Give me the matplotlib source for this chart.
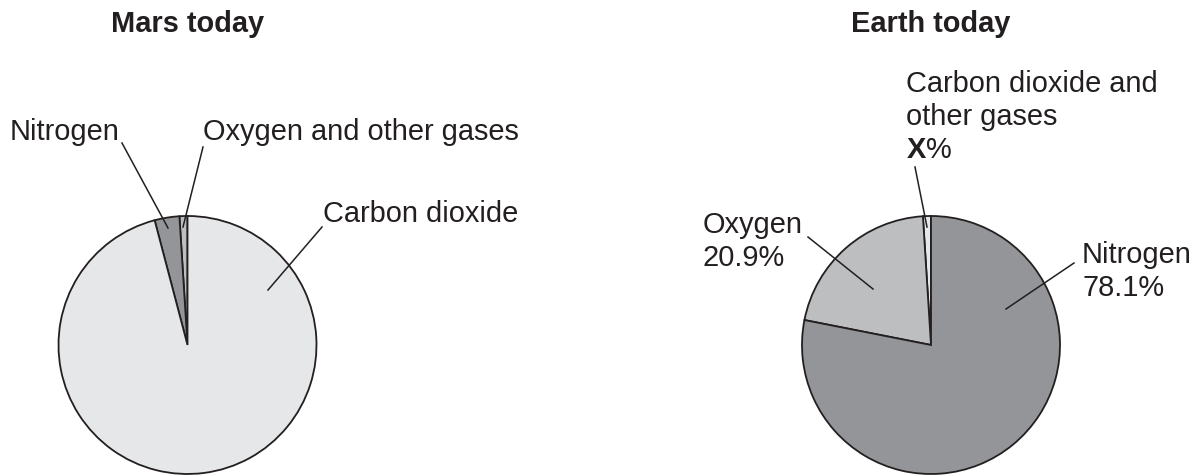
import matplotlib
matplotlib.use("Agg")
import matplotlib.pyplot as plt

plt.rcParams["font.family"] = ["Liberation Sans", "DejaVu Sans"]
plt.rcParams["mathtext.fontset"] = "custom"
plt.rcParams["mathtext.rm"] = "Liberation Sans"
plt.rcParams["mathtext.bf"] = "Liberation Sans:bold"

# Data (shares going counter-clockwise from 12 o'clock)
mars_labels = ["Oxygen and other gases", "Nitrogen", "Carbon dioxide"]
mars_values = [1.0, 3.1, 95.9]
mars_colors = ["#bcbec0", "#939598", "#e6e7e8"]

earth_labels = ["Carbon dioxide and other gases", "Oxygen", "Nitrogen"]
earth_values = [1.0, 20.9, 78.1]
earth_colors = ["#e6e7e8", "#bcbec0", "#939598"]

INK = "#231f20"
FS = 20.9
W, H = 1200, 476

fig = plt.figure(figsize=(12, 4.76), dpi=100)
ax = fig.add_axes([0, 0, 1, 1])


def y(px):
    # pixel row (from top) -> data y
    return H - px


def draw_pie(values, colors, cx, cy, r):
    ax.pie(values, colors=colors, startangle=90, counterclock=True,
           center=(cx, y(cy)), radius=r, frame=True,
           wedgeprops=dict(edgecolor=INK, linewidth=1.3))


def label(lines, x, baseline, step=33):
    for i, line in enumerate(lines):
        ax.text(x, y(baseline + i * step), line, fontsize=FS, color=INK,
                ha="left", va="baseline")


def leader(x0, y0, x1, y1):
    ax.plot([x0, x1], [y(y0), y(y1)], color=INK, linewidth=1.1)


draw_pie(mars_values, mars_colors, 187.5, 345, 129)
draw_pie(earth_values, earth_colors, 931, 345, 129)
ax.set_xlim(0, W)
ax.set_ylim(0, H)
ax.set_aspect("equal")
ax.axis("off")

# titles
ax.text(187.5, y(32), "Mars today", fontsize=FS, fontweight="bold",
        color=INK, ha="center", va="baseline")
ax.text(931, y(32), "Earth today", fontsize=FS, fontweight="bold",
        color=INK, ha="center", va="baseline")

# Mars labels
label([mars_labels[1]], 10, 140)
leader(122, 143, 168, 228)
label([mars_labels[0]], 203, 140)
leader(203, 147, 183, 227)
label([mars_labels[2]], 323, 222)
leader(322, 227, 268, 290)

# Earth labels
label(["Carbon dioxide and", "other gases", r"$\mathbf{X}$%"], 906, 92)
leader(915, 167, 927, 227)
label([earth_labels[1], f"{earth_values[1]}%"], 703, 233)
leader(808, 237, 873, 289)
label([earth_labels[2], f"{earth_values[2]}%"], 1082, 263)
leader(1074, 263, 1006, 309)

fig.savefig("out.png", dpi=100)
